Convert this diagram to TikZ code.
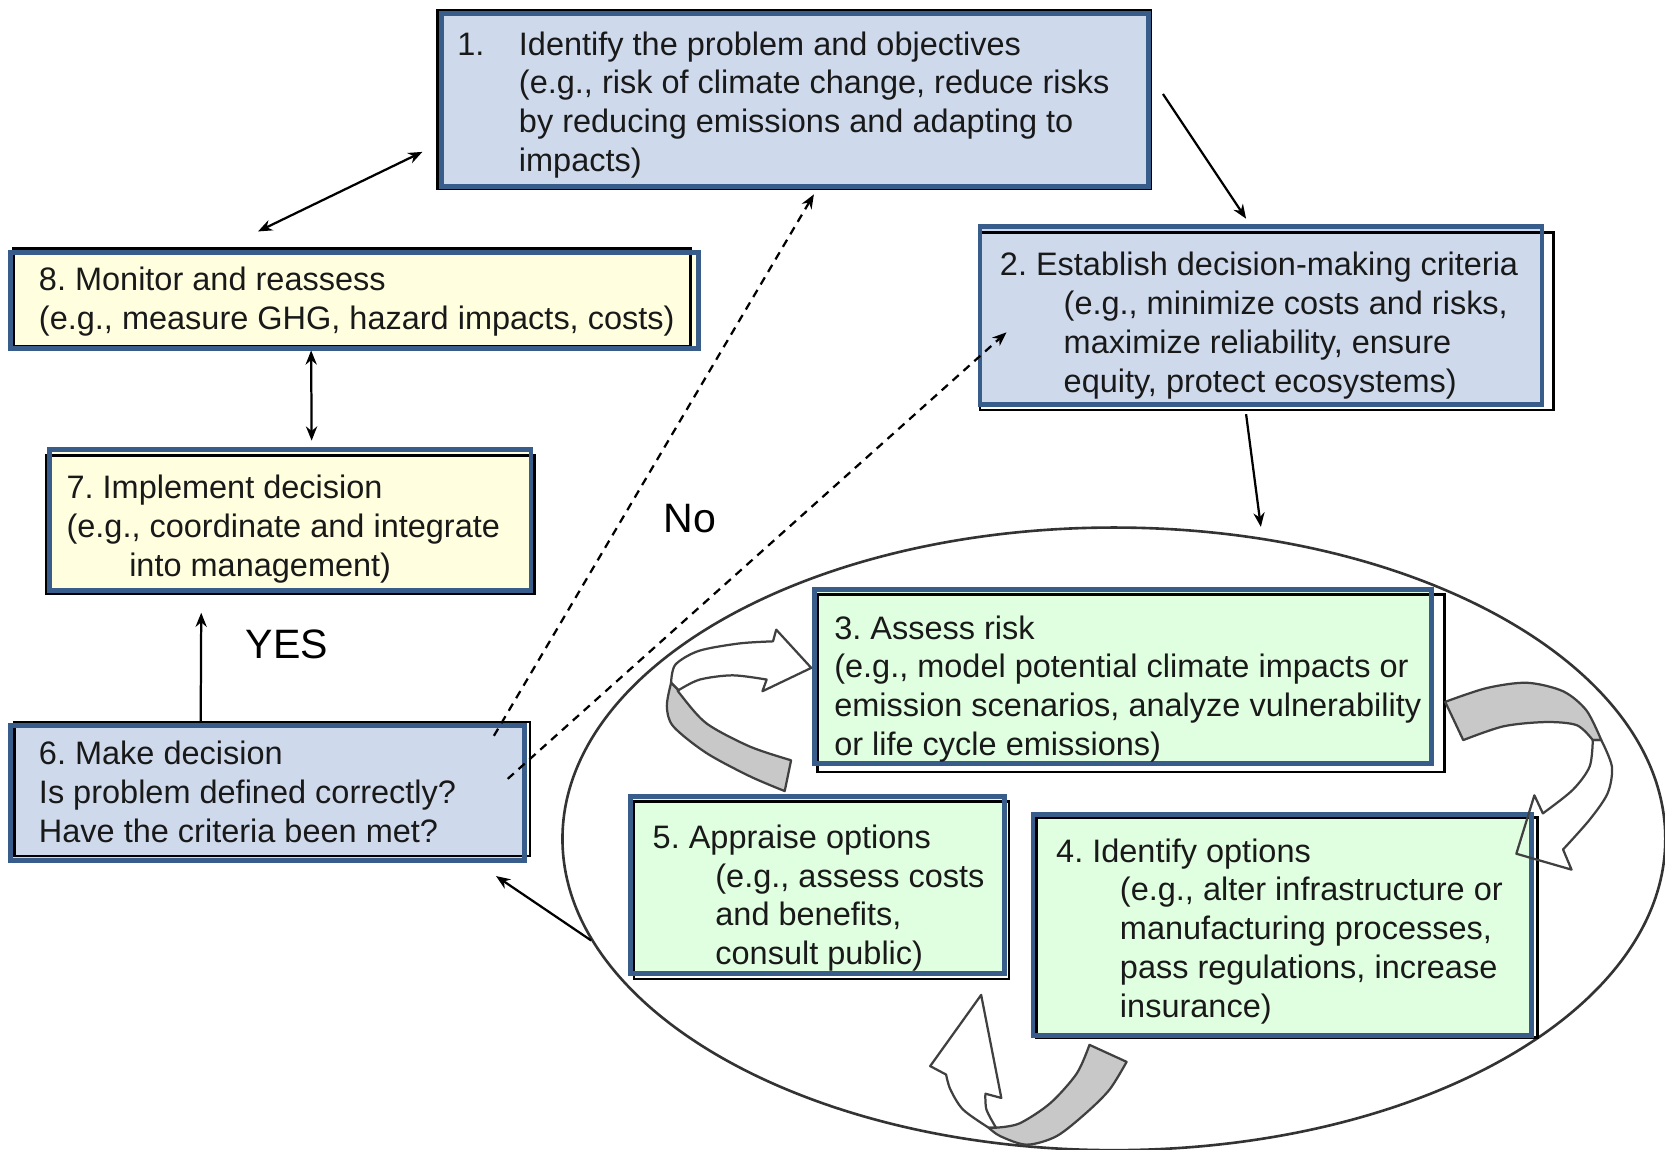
\documentclass[tikz,border=0pt]{standalone}
\usepackage{fontspec}
\setmainfont{Liberation Sans}
\usetikzlibrary{arrows.meta}
\usetikzlibrary{shapes.geometric}
\definecolor{stepblue}{RGB}{206,218,236}
\definecolor{stepyellow}{RGB}{255,255,224}
\definecolor{stepgreen}{RGB}{224,255,224}
\definecolor{stepedge}{RGB}{56,93,138}
\definecolor{ribbongray}{RGB}{200,200,200}
\newcommand{\stepfont}{\fontsize{8.7pt}{10.4pt}\selectfont}
\frenchspacing
\tikzset{
  % filled area of a step box, border is drawn later
  stepframe/.style={rectangle,inner sep=0pt,outer sep=0pt},
  % text of a step box, placed at its first line
  steptext/.style={anchor=north west,inner sep=0pt,align=left,font=\stepfont,text=black!90},
  % thick blue border and thin black frame
  stepborder/.style={draw=stepedge,line width=1.3pt},
  shadowline/.style={draw=black,line width=0.7pt},
  % connectors
  link/.style={line width=0.6pt,-{Stealth[length=3.8pt,width=3pt]}},
  duallink/.style={line width=0.6pt,{Stealth[length=3.8pt,width=3pt]}-{Stealth[length=3.8pt,width=3pt]}},
  nolink/.style={link,dash pattern=on 2.2pt off 1.7pt},
  % the curved ribbon arrows of the loop
  ribbondark/.style={draw=black!75,line width=0.6pt,fill=ribbongray,line join=round},
  ribbonlight/.style={draw=black!75,line width=0.6pt,line join=round},
}

\begin{document}
\begin{tikzpicture}[x=0.01cm,y=-0.01cm]
\useasboundingbox (0,0) rectangle (1568,1083);
\clip (0,0) rectangle (1568,1083);

% the loop of steps 3 to 5
\node[draw=black!80,line width=0.7pt,ellipse,minimum width=10.38cm,minimum height=5.86cm,inner sep=0pt] (loop) at (1049,790) {};

% box areas
\node[stepframe,fill=stepblue,minimum width=6.65cm,minimum height=1.63cm] (b1) at (748.5,94.5) {};
\node[stepframe,fill=stepblue,minimum width=5.29cm,minimum height=1.68cm] (b2) at (1187.5,297) {};
\node[stepframe,fill=stepgreen,minimum width=5.81cm,minimum height=1.64cm] (b3) at (1057.5,637) {};
\node[stepframe,fill=stepgreen,minimum width=4.69cm,minimum height=2.08cm] (b4) at (1207.5,871) {};
\node[stepframe,fill=stepgreen,minimum width=3.52cm,minimum height=1.67cm] (b5) at (770,833.5) {};
\node[stepframe,fill=stepblue,minimum width=4.84cm,minimum height=1.27cm] (b6) at (252,746.5) {};
\node[stepframe,fill=stepyellow,minimum width=4.53cm,minimum height=1.33cm] (b7) at (273.5,489.5) {};
\node[stepframe,fill=stepyellow,minimum width=6.48cm,minimum height=0.90cm] (b8) at (334,283) {};

% thin black frames, then the blue borders
\foreach \n/\a/\b/\c/\d in {1/-4/-3/2/2,2/0/6/11/5,3/3/5/12/8,4/3/3/6/2,5/3/5/4/5,6/4/-3/5/-4,7/-3/6/3/3,8/3/-4/-8/-2}
  \draw[shadowline] ([shift={(\a,\b)}]b\n.north west) rectangle ([shift={(\c,\d)}]b\n.south east);
\foreach \n in {1,...,8}
  \draw[stepborder] (b\n.north west) rectangle (b\n.south east);

% texts
\node[steptext] (t1) at (430,29) {\makebox[0.58cm][l]{1.}Identify the problem and objectives\\
  \hspace*{0.58cm}(e.g., risk of climate change, reduce risks\\
  \hspace*{0.58cm}by reducing emissions and adapting to\\
  \hspace*{0.58cm}impacts)};
\node[steptext] (t2) at (941,237) {2. Establish decision-making criteria\\
  \hspace*{0.6cm}(e.g., minimize costs and risks,\\
  \hspace*{0.6cm}maximize reliability, ensure\\
  \hspace*{0.6cm}equity, protect ecosystems)};
\node[steptext] (t3) at (785,579) {3. Assess risk\\
  (e.g., model potential climate impacts or\\
  emission scenarios, analyze vulnerability\\
  or life cycle emissions)};
\node[steptext] (t4) at (994,789) {4. Identify options\\
  \hspace*{0.6cm}(e.g., alter infrastructure or\\
  \hspace*{0.6cm}manufacturing processes,\\
  \hspace*{0.6cm}pass regulations, increase\\
  \hspace*{0.6cm}insurance)};
\node[steptext] (t5) at (614,776) {5. Appraise options\\
  \hspace*{0.59cm}(e.g., assess costs\\
  \hspace*{0.59cm}and benefits,\\
  \hspace*{0.59cm}consult public)};
\node[steptext] (t6) at (36,697) {6. Make decision\\
  Is problem defined correctly?\\
  Have the criteria been met?};
\node[steptext] (t7) at (62,447) {7. Implement decision\\
  (e.g., coordinate and integrate\\
  \hspace*{0.59cm}into management)};
\node[steptext] (t8) at (36,251) {8. Monitor and reassess\\
  (e.g., measure GHG, hazard impacts, costs)};

\node[font=\fontsize{11pt}{13pt}\selectfont] (no) at (650,488) {No};
\node[font=\fontsize{11pt}{13pt}\selectfont] (yes) at (270,607) {YES};

% ribbon arrows round the loop
\draw[ribbondark] plot[smooth] coordinates {(632,643) (628,665) (634,684) (665,709) (706,731) (739,745)}
  -- (745,716) -- plot[smooth] coordinates {(745,716) (706,703) (665,681) (640,653) (639,650)} -- cycle;
\draw[ribbonlight] plot[smooth] coordinates {(632,643) (636,626) (658,613) (696,606) (728,604)}
  -- (731,593) -- (764,629) -- (718,651) -- (722,640)
  -- plot[smooth] coordinates {(722,640) (690,636) (659,640) (639,650)} -- cycle;
\draw[ribbondark] plot[smooth] coordinates {(1361,661) (1400,648) (1438,643) (1472,651) (1494,669) (1508,697)}
  -- (1500,697) -- plot[smooth] coordinates {(1500,697) (1485,683) (1456,680) (1416,684) (1378,697)} -- cycle;
\draw[ribbonlight] plot[smooth] coordinates {(1508,697) (1518,722) (1514,747) (1497,772) (1472,800)}
  -- (1480,819) -- (1428,804) -- (1445,749) -- (1453,766)
  -- plot[smooth] coordinates {(1453,766) (1481,744) (1497,722) (1500,697)} -- cycle;
\draw[ribbondark] (1026,984) -- (1061,1000)
  -- plot[smooth] coordinates {(1061,1000) (1045,1026) (1023,1048) (995,1070) (967,1078) (942,1070) (931,1062)}
  -- (938,1062) -- plot[smooth] coordinates {(938,1062) (960,1058) (989,1039) (1014,1011) (1026,984)} -- cycle;
\draw[ribbonlight] plot[smooth] coordinates {(931,1062) (907,1045) (895,1026) (891,1012)}
  -- (876,1004) -- (924,937) -- (943,1034) -- (928,1030)
  -- plot[smooth] coordinates {(928,1030) (929,1045) (938,1062)} -- cycle;

% connectors
\draw[duallink] ([shift={(-91,-20)}]b8.north) -- ([shift={(-18,-33)}]b1.south west);
\draw[link] ([shift={(14,-6)}]b1.east) -- ([shift={(-14,-7)}]b2.north);
\draw[duallink] ([shift={(-41,2)}]b8.south) -- ([shift={(20,-8)}]b7.north);
\draw[link] ([shift={(-14,9)}]b2.south) -- ([shift={(0,-10)}]loop.64);
\draw[link] (loop.191) -- ([shift={(-27,15)}]b6.south east);
\draw[link] ([shift={(-63,-3)}]b6.north) -- ([shift={(-84,21)}]b7.south);
\draw[nolink] ([shift={(-29,10)}]b6.north east) -- ([shift={(18,7)}]b1.south);
\draw[nolink] ([shift={(-16,-13)}]b6.east) -- ([shift={(25,16)}]b2.west);
\end{tikzpicture}
\end{document}
